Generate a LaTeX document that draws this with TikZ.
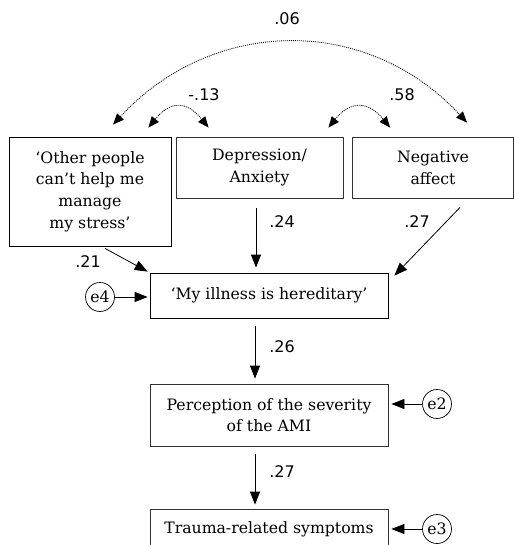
\documentclass[tikz,border=0pt]{standalone}
\usepackage{fontspec}
\newfontfamily\numfont{DejaVu Sans}
\newfontfamily\boxfont{DejaVu Serif}
\usetikzlibrary{arrows.meta}
\begin{document}
\begin{tikzpicture}[x=1pt,y=-1pt,
  box/.style={draw=black!80, line width=0.8pt, align=center, inner sep=0pt, font=\boxfont\fontsize{15.7}{21.7}\selectfont},
  err/.style={draw, circle, line width=0.7pt, inner sep=0pt, minimum size=29pt, font=\boxfont\fontsize{15.7}{15.7}\selectfont},
  arr/.style={line width=0.8pt, -{Triangle[length=13pt,width=10pt]}},
  cov/.style={dash pattern=on 1pt off 1pt, line width=0.8pt, {Triangle[length=11pt,width=9pt]}-{Triangle[length=11pt,width=9pt]}},
  lab/.style={font=\numfont\fontsize{16}{16}\selectfont, inner sep=0pt}]
\useasboundingbox (0,0) rectangle (514,545);
\node[box, draw=black, minimum width=162pt, minimum height=109pt] (b1) at (90,191.5) {‘Other people\\can’t help me\\manage\\my stress’};
\node[box, minimum width=167pt, minimum height=61pt] (b2) at (259.5,167.5) {Depression/\\Anxiety};
\node[box, minimum width=161pt, minimum height=61pt] (b3) at (433,167.5) {Negative\\affect};
\node[box, draw=black, minimum width=238pt, minimum height=45pt] (b4) at (269,295.5) {‘My illness is hereditary’};
\node[box, minimum width=238pt, minimum height=62pt] (b5) at (269,415) {Perception of the severity\\of the AMI};
\node[box, minimum width=238pt, minimum height=40pt] (b6) at (269,529) {Trauma-related symptoms};
\node[err] (e4) at (100,297) {e4};
\node[err] (e2) at (437,404) {e2};
\node[err] (e3) at (437,529) {e3};
% covariances
\draw[cov] ([xshift=23pt,yshift=12pt]b1.north) .. controls +(100,-108) and +(-100,-108) .. ([xshift=34pt,yshift=14pt]b3.north);
\draw[cov] ([xshift=-23pt,yshift=9pt]b1.north east) .. controls +(22,-27) and +(-22,-27) .. ([xshift=33pt,yshift=9pt]b2.north west);
\draw[cov] ([xshift=-15pt,yshift=9pt]b2.north east) .. controls +(22,-27) and +(-22,-27) .. ([xshift=38pt,yshift=9pt]b3.north west);
% paths
\draw[arr] ([xshift=15pt,yshift=-2pt]b1.south) -- ([xshift=-2pt,yshift=1pt]b4.north west);
\draw[arr] ([xshift=-3.5pt,yshift=-10pt]b2.south) -- ([xshift=-13pt,yshift=5pt]b4.north);
\draw[arr] ([xshift=27pt,yshift=-9pt]b3.south) -- ([xshift=6pt,yshift=-3pt]b4.north east);
\draw[arr, shorten >=2pt] (e4.east) -- (e4.east -| b4.west);
\draw[arr] ([xshift=-14pt,yshift=-8pt]b4.south) -- ([xshift=-14pt,yshift=5pt]b5.north);
\draw[arr] ([xshift=-14pt,yshift=-8pt]b5.south) -- ([xshift=-14pt,yshift=4pt]b6.north);
\draw[arr, shorten >=3pt] (e2.west) -- (e2.west -| b5.east);
\draw[arr, shorten >=3pt] (e3.west) -- (e3.west -| b6.east);
% labels
\node[lab] (l06) at (287,19) {.06};
\node[lab] (l13) at (204,95) {-.13};
\node[lab] (l58) at (402,95) {.58};
\node[lab] (l21) at (88,262) {.21};
\node[lab] (l24) at (282,222) {.24};
\node[lab] (l27a) at (417,222) {.27};
\node[lab] (l26) at (282,347) {.26};
\node[lab] (l27b) at (282,472) {.27};
\end{tikzpicture}
\end{document}
